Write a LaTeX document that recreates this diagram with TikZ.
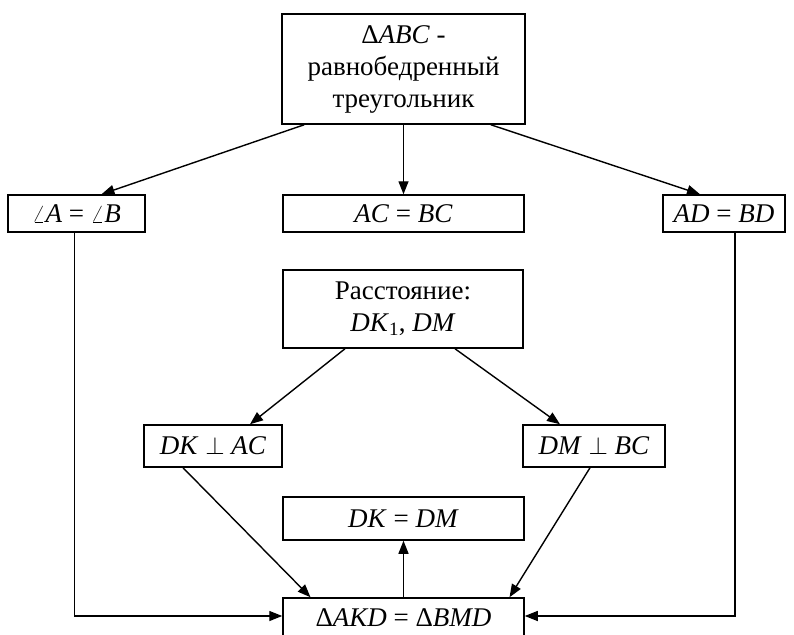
\documentclass[tikz,border=0pt]{standalone}
\usepackage{fontspec}
\setmainfont{Liberation Serif}
\usetikzlibrary{arrows.meta, positioning}

\begin{document}
\begin{tikzpicture}[
  x=1pt, y=-1pt,
  every node/.style={font=\fontsize{27}{32}\selectfont},
  box/.style={draw, line width=1.5pt, align=center, inner sep=2pt, minimum height=37pt},
  arr/.style={-{Triangle[length=13pt, width=10pt]}, line width=1.4pt},
]
  \clip (0,0) rectangle (794,634);

  \node[box, minimum width=243pt, minimum height=110pt] (top) at (403.5,69)
    {Δ\textit{ABC} -\\равнобедренный\\треугольник};

  \node[box, minimum width=137pt] (angA) at (76.5,213.5) {$\angle$\textit{A} = $\angle$\textit{B}};
  \node[box, minimum width=241pt] (acbc) at (403.5,213.5) {\textit{AC} = \textit{BC}};
  \node[box, minimum width=122pt] (adbd) at (724,213.5) {\textit{AD} = \textit{BD}};

  \node[box, minimum width=240pt, minimum height=78pt] (dist) at (403,309)
    {Расстояние:\\\textit{DK}\textsubscript{1}, \textit{DM}};

  \node[box, minimum width=138pt, minimum height=42pt] (dkac) at (213,446) {\textit{DK} $\perp$ \textit{AC}};
  \node[box, minimum width=142pt, minimum height=42pt] (dmbc) at (594,446) {\textit{DM} $\perp$ \textit{BC}};

  \node[box, minimum width=241pt, minimum height=43pt] (dkdm) at (403.5,518.5) {\textit{DK} = \textit{DM}};
  \node[box, minimum width=241pt, minimum height=40pt] (akd) at (403.5,618) {Δ\textit{AKD} = Δ\textit{BMD}};

  \draw[arr] ([xshift=23pt]top.south west) -- ([xshift=25pt]angA.north);
  \draw[arr] (top.south) -- (acbc.north);
  \draw[arr] ([xshift=-35pt]top.south east) -- ([xshift=-24pt]adbd.north);

  \draw[arr] ([xshift=-58pt]dist.south) -- ([xshift=37pt]dkac.north);
  \draw[arr] ([xshift=52pt]dist.south) -- ([xshift=-34pt]dmbc.north);

  \draw[arr] ([xshift=-30pt]dkac.south) -- ([xshift=-93pt]akd.north);
  \draw[arr] ([xshift=-4pt]dmbc.south) -- ([xshift=106pt]akd.north);
  \draw[arr] (akd.north) -- (dkdm.south);

  \draw[arr] ([xshift=-2pt]angA.south) |- ([yshift=2pt]akd.west);
  \draw[arr] ([xshift=11pt]adbd.south) |- ([yshift=2pt]akd.east);
\end{tikzpicture}
\end{document}
